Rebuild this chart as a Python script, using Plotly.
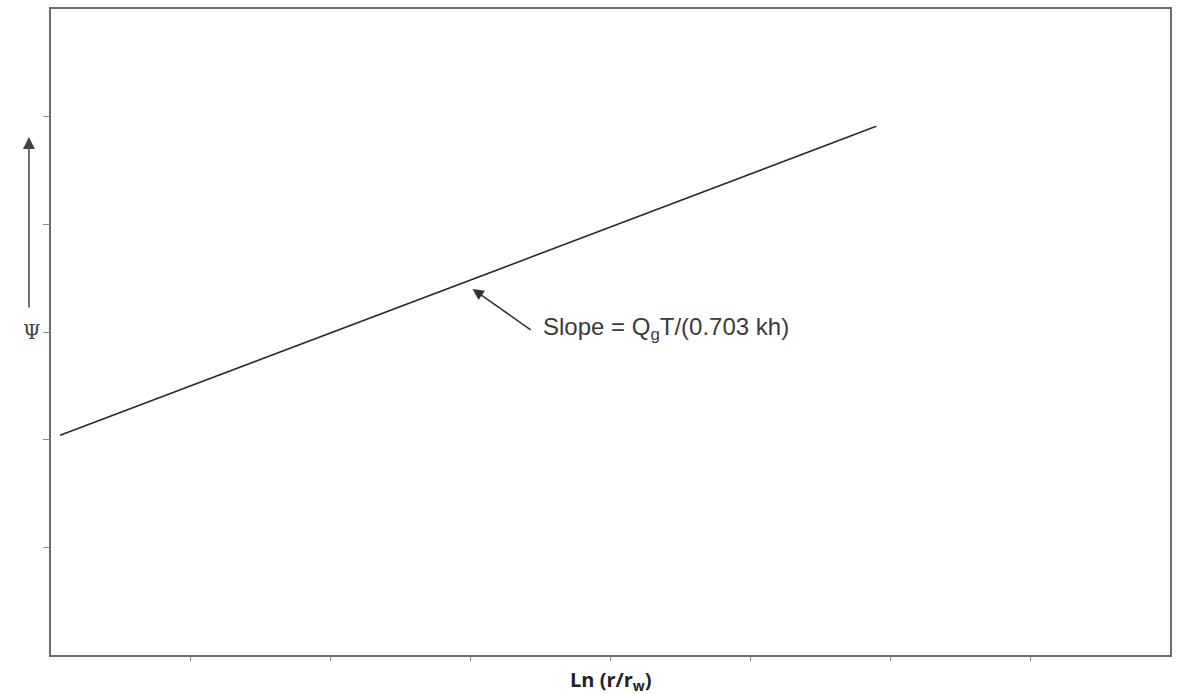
import plotly.graph_objects as go

# Data
line_x = [0.065, 5.9]
line_y = [2.04, 4.91]
x_ticks = [1, 2, 3, 4, 5, 6, 7]
y_ticks = [1, 2, 3, 4, 5]
x_title = "<b>Ln (r/r<sub>w</sub>)</b>"
y_title = "Ψ"
slope_text = "Slope = Q<sub>g</sub>T/(0.703 kh)"
arrow_tip = (3.014, 3.40)
arrow_tail = (3.44, 3.01)

fig = go.Figure()
fig.add_trace(go.Scatter(x=line_x, y=line_y, mode="lines",
                         line=dict(color="#2a2a2a", width=1.6),
                         showlegend=False, hoverinfo="skip"))

axis_common = dict(showgrid=False, zeroline=False, showline=True, mirror=True,
                   linecolor="#6e6e6e", linewidth=2, showticklabels=False,
                   ticks="outside", tickcolor="#8a8a8a", tickwidth=1)
fig.update_xaxes(range=[0, 8], tickvals=x_ticks, ticklen=4, **axis_common)
fig.update_yaxes(range=[0, 6], tickvals=y_ticks, ticklen=6, **axis_common)

# Slope arrow
fig.add_annotation(x=arrow_tip[0], y=arrow_tip[1], ax=arrow_tail[0], ay=arrow_tail[1],
                   xref="x", yref="y", axref="x", ayref="y", text="",
                   showarrow=True, arrowhead=2, arrowsize=1.4, arrowwidth=1.6,
                   arrowcolor="#333333")
fig.add_annotation(x=3.5, y=3.03, xref="x", yref="y", text=slope_text,
                   showarrow=False, xanchor="left", yanchor="middle",
                   font=dict(family="Liberation Sans, Arial", size=24, color="#3a3a3a"))

# Y axis label with upward arrow
fig.add_annotation(x=-0.0197, y=0.802, xref="paper", yref="paper", text="",
                   showarrow=True, ax=0, ay=172, arrowhead=2, arrowsize=1.6,
                   arrowwidth=1.5, arrowcolor="#444444")
fig.add_annotation(x=-0.017, y=0.5, xref="paper", yref="paper", text=y_title,
                   showarrow=False, xanchor="center", yanchor="middle",
                   font=dict(family="DejaVu Serif", size=20, color="#444444"))

# X axis title
fig.add_annotation(x=0.5, y=-0.04, xref="paper", yref="paper", text=x_title,
                   showarrow=False, xanchor="center", yanchor="middle",
                   font=dict(family="Open Sans, Liberation Sans", size=20, color="#222222"))

fig.update_layout(width=1180, height=694, plot_bgcolor="white", paper_bgcolor="white",
                  margin=dict(l=51, r=10, t=7, b=39))

fig.write_html("out.html", config={"displayModeBar": False},
               post_script="document.body.style.margin='0';document.body.style.overflow='hidden';")
